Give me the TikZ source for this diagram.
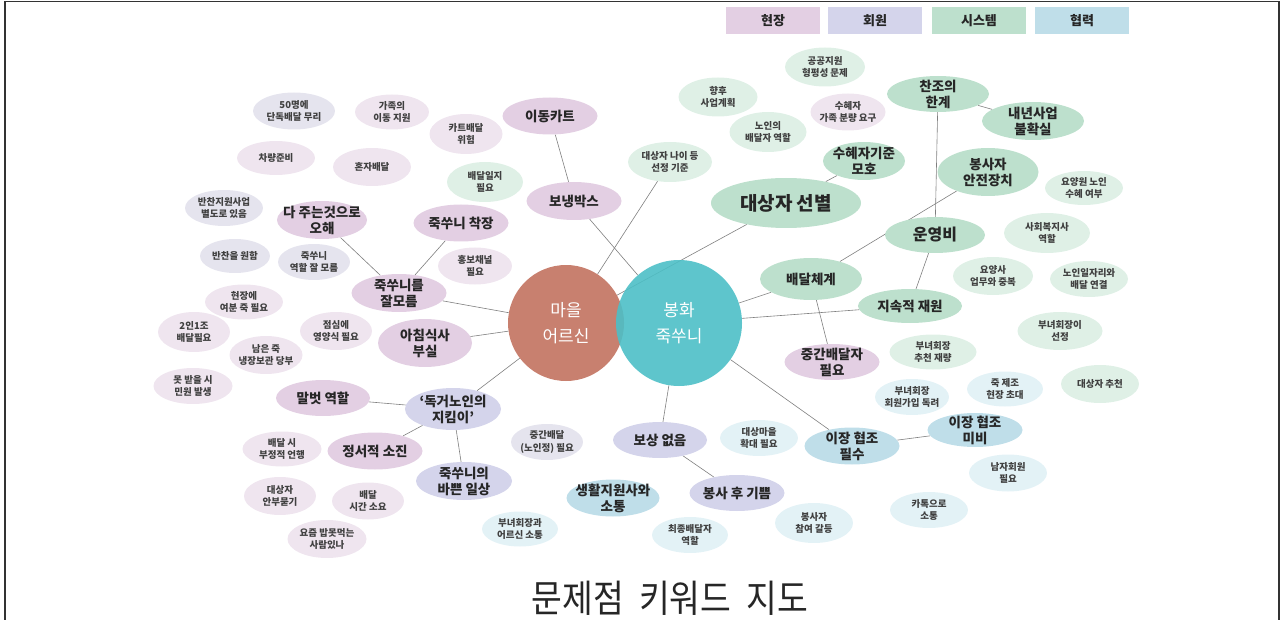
\documentclass[tikz,border=0pt]{standalone}
\usepackage{fontspec}
\setmainfont{Noto Sans CJK KR}
\usetikzlibrary{shapes.geometric}
\pgfdeclarelayer{bg}
\pgfsetlayers{bg,main}
\definecolor{pinkA}{HTML}{E3CFE3}
\definecolor{pinkB}{HTML}{EFE5EF}
\definecolor{lavA}{HTML}{D4D4EB}
\definecolor{lavB}{HTML}{E5E4EE}
\definecolor{greenA}{HTML}{BDE0CD}
\definecolor{greenB}{HTML}{DFF0E6}
\definecolor{blueA}{HTML}{BFDEE9}
\definecolor{blueB}{HTML}{E3F2F6}
\definecolor{salmon}{HTML}{C8806F}
\definecolor{teal}{HTML}{4DBFC6}
\definecolor{linkgray}{HTML}{7F7F7F}
\tikzstyle{every node}=[ellipse,inner sep=-30pt,align=center,text=black!85]
\tikzstyle{big}=[font=\fontsize{13.5}{16}\selectfont\bfseries]
\tikzstyle{small}=[font=\fontsize{9.5}{12.5}\selectfont\bfseries,text=black!75]
\tikzstyle{hub}=[circle,text=white,font=\fontsize{17}{26}\selectfont]
\tikzstyle{legend}=[rectangle,inner sep=0pt,minimum width=94pt,minimum height=27pt,font=\fontsize{13}{15}\selectfont\bfseries]
\tikzstyle{link}=[draw=linkgray,line width=0.6pt]
\tikzset{wh/.style 2 args={minimum width=#1pt,minimum height=#2pt}}

\begin{document}
\begin{tikzpicture}[x=1pt,y=-1pt]
  \useasboundingbox (0,0) rectangle (1284,620);
  \draw[black!80,line width=1.5pt] (5,630) -- (5,1.5) -- (1279,1.5) -- (1279,630);
  \node[legend,fill=pinkA] (lhyeon) at (773,21) {현장};
  \node[legend,fill=lavA] (lhoe) at (875,21) {회원};
  \node[legend,fill=greenA] (lsys) at (979,21) {시스템};
  \node[legend,fill=blueA] (lhyeop) at (1082,21) {협력};

  \node[hub,fill=salmon,minimum size=116pt] (maeul) at (566,323) {마을\\어르신};
  \node[hub,fill=teal,fill opacity=0.9,text opacity=1,minimum size=126pt] (bonghwa) at (679,323) {봉화\\죽쑤니};

  \node[small,fill=lavB,wh={82}{37}] (n50) at (294,111) {50명에\\단독배달 무리};
  \node[small,fill=pinkB,wh={74}{35}] (gajok) at (392,112) {가족의\\이동 지원};
  \node[small,fill=pinkB,wh={78}{34}] (cha) at (276,158) {차량준비};
  \node[small,fill=pinkB,wh={78}{38}] (honja) at (372,167) {혼자배달};
  \node[small,fill=lavB,wh={78}{36}] (banchanji) at (224,208) {반찬지원사업\\별도로 있음};
  \node[big,fill=pinkA,wh={90}{38}] (ohae) at (322,220) {다 주는것으로\\오해};
  \node[small,fill=lavB,wh={70}{34}] (banchan) at (235,256) {반찬을 원함};
  \node[small,fill=lavB,wh={72}{36}] (yeokhal) at (314,262) {죽쑤니\\역할 잘 모름};
  \node[small,fill=pinkB,wh={78}{35}] (yeobun) at (244,302) {현장에\\여분 죽 필요};
  \node[big,fill=pinkA,wh={95}{38}] (jalmo) at (399,293) {죽쑤니를\\잘모름};
  \node[small,fill=pinkB,wh={72}{40}] (duin) at (194,332) {2인1조\\배달필요};
  \node[small,fill=pinkB,wh={72}{38}] (jeomsim) at (336,331) {점심에\\영양식 필요};
  \node[small,fill=pinkB,wh={73}{38}] (nameun) at (266,355) {남은 죽\\냉장보관 당부};
  \node[big,fill=pinkA,wh={94}{48}] (achim) at (425,343) {아침식사\\부실};
  \node[small,fill=pinkB,wh={79}{36}] (minwon) at (193,386) {못 받을 시\\민원 발생};
  \node[big,fill=pinkA,wh={94}{36}] (malbeot) at (323,398) {말벗 역할};
  \node[big,fill=lavA,wh={96}{42}] (dokgeo) at (453,409) {‘독거노인의\\지킴이’};
  \node[small,fill=pinkB,wh={79}{35}] (eonhaeng) at (282,449) {배달 시\\부정적 언행};
  \node[big,fill=pinkA,wh={95}{37}] (soejin) at (375,451) {정서적 소진};
  \node[small,fill=pinkB,wh={72}{38}] (anbu) at (280,496) {대상자\\안부묻기};
  \node[small,fill=pinkB,wh={72}{37}] (sigan) at (368,501) {배달\\시간 소요};
  \node[big,fill=lavA,wh={96}{38}] (bappeun) at (464,481) {죽쑤니의\\바쁜 일상};
  \node[small,fill=pinkB,wh={79}{38}] (yojeum) at (327,539) {요즘 밥못먹는\\사람있나};
  \node[small,fill=lavB,wh={72}{36}] (noinjeong) at (547,442) {중간배달\\(노인정) 필요};
  \node[small,fill=blueB,wh={76}{35}] (eoreunsin) at (520,529) {부녀회장과\\어르신 소통};
  \node[big,fill=blueA,wh={93}{37}] (saenghwal) at (613,498) {생활지원사와\\소통};
  \node[small,fill=blueB,wh={76}{36}] (choejong) at (690,535) {최종배달자\\역할};
  \node[big,fill=lavA,wh={94}{36}] (bosang) at (660,440) {보상 없음};
  \node[big,fill=lavA,wh={95}{36}] (gippeum) at (737,493) {봉사 후 기쁨};
  \node[small,fill=blueB,wh={78}{36}] (hwakdae) at (759,438) {대상마을\\확대 필요};
  \node[big,fill=blueA,wh={95}{37}] (pilsu) at (852,446) {이장 협조\\필수};
  \node[big,fill=blueA,wh={95}{34}] (mibi) at (975,430) {이장 협조\\미비};
  \node[small,fill=blueB,wh={78}{37}] (namja) at (1008,473) {남자회원\\필요};
  \node[small,fill=blueB,wh={78}{36}] (katok) at (929,510) {카톡으로\\소통};
  \node[small,fill=blueB,wh={78}{40}] (galdeung) at (814,523) {봉사자\\참여 갈등};
  \node[small,fill=blueB,wh={74}{36}] (gaip) at (912,397) {부녀회장\\회원가입 독려};
  \node[small,fill=blueB,wh={76}{35}] (chodae) at (1005,389) {죽 제조\\현장 초대};
  \node[small,fill=greenB,wh={78}{38}] (chucheon) at (1100,384) {대상자 추천};
  \node[small,fill=greenB,wh={87}{35}] (jaeryang) at (933,352) {부녀회장\\추천 재량};
  \node[big,fill=pinkA,wh={95}{36}] (junggan) at (832,362) {중간배달자\\필요};
  \node[small,fill=greenB,wh={85}{38}] (seonjeong) at (1060,331) {부녀회장이\\선정};
  \node[big,fill=greenA,wh={104}{34}] (jisok) at (910,306) {지속적 재원};
  \node[big,fill=greenA,wh={102}{42}] (baedal) at (811,279) {배달체계};
  \node[small,fill=greenB,wh={80}{38}] (yoyangsa) at (993,276) {요양사\\업무와 중복};
  \node[small,fill=greenB,wh={78}{36}] (ilja) at (1089,279) {노인일자리와\\배달 연결};
  \node[big,fill=greenA,wh={100}{36},font=\fontsize{16}{18}\selectfont\bfseries] (unyeong) at (935,235) {운영비};
  \node[small,fill=greenB,wh={86}{40}] (bokji) at (1047,233) {사회복지사\\역할};
  \node[small,fill=greenB,wh={78}{34}] (yoyangwon) at (1084,188) {요양원 노인\\수혜 여부};
  \node[big,fill=greenA,wh={101}{48}] (anjeon) at (988,172) {봉사자\\안전장치};
  \node[big,fill=greenA,wh={102}{36}] (chanjo) at (938,94) {찬조의\\한계};
  \node[big,fill=greenA,wh={102}{38}] (naenyeon) at (1033,121) {내년사업\\불확실};
  \node[big,fill=greenA,wh={82}{38}] (moho) at (864,161) {수혜자기준\\모호};
  \node[big,fill=greenA,wh={150}{50},font=\fontsize{19}{22}\selectfont\bfseries] (seonbyeol) at (786,203) {대상자 선별};
  \node[small,fill=greenB,wh={80}{39}] (gonggong) at (825,67) {공공지원\\형평성 문제};
  \node[small,fill=pinkB,wh={75}{37}] (bunryang) at (848,112) {수혜자\\가족 분량 요구};
  \node[small,fill=greenB,wh={79}{39}] (hyanghu) at (718,97) {향후\\사업계획};
  \node[small,fill=greenB,wh={77}{40}] (noinbaedal) at (768,132) {노인의\\배달자 역할};
  \node[small,fill=greenB,wh={84}{40}] (gijun) at (670,162) {대상자 나이 등\\선정 기준};
  \node[big,fill=pinkA,wh={95}{37}] (idong) at (550,116) {이동카트};
  \node[small,fill=pinkB,wh={73}{40}] (kateu) at (466,134) {카트배달\\위험};
  \node[small,fill=greenB,wh={76}{40}] (ilji) at (485,182) {배달일지\\필요};
  \node[big,fill=pinkA,wh={95}{38}] (bonaeng) at (574,201) {보냉박스};
  \node[big,fill=pinkA,wh={95}{37}] (chakjang) at (461,223) {죽쑤니 착장};
  \node[small,fill=pinkB,wh={74}{37}] (hongbo) at (475,266) {홍보채널\\필요};

  \node[rectangle,inner sep=0pt,font=\fontsize{38}{42}\selectfont] (title) at (670,598) {\scalebox{0.88}[1]{문제점\hspace{0.45em}키워드\hspace{0.45em}지도}};

  \begin{pgfonlayer}{bg}
    \draw[link] (idong) -- (bonaeng);
    \draw[link] (bonaeng) -- (bonghwa);
    \draw[link] (gijun) -- (maeul);
    \draw[link] (seonbyeol) -- (maeul);
    \draw[link] (moho) -- (seonbyeol);
    \draw[link] (chanjo) -- (naenyeon);
    \draw[link] (chanjo) -- (unyeong);
    \draw[link] (anjeon) -- (baedal);
    \draw[link] (unyeong) -- (jisok);
    \draw[link] (baedal) -- (bonghwa);
    \draw[link] (jisok) -- (bonghwa);
    \draw[link] (baedal) -- (junggan);
    \draw[link] (bonghwa) -- (pilsu);
    \draw[link] (pilsu) -- (mibi);
    \draw[link] (bonghwa) -- (bosang);
    \draw[link] (bosang) -- (gippeum);
    \draw[link] (maeul) -- (dokgeo);
    \draw[link] (dokgeo) -- (bappeun);
    \draw[link] (dokgeo) -- (soejin);
    \draw[link] (dokgeo) -- (malbeot);
    \draw[link] (maeul) -- (achim);
    \draw[link] (maeul) -- (jalmo);
    \draw[link] (jalmo) -- (ohae);
    \draw[link] (jalmo) -- (chakjang);
  \end{pgfonlayer}
\end{tikzpicture}
\end{document}
